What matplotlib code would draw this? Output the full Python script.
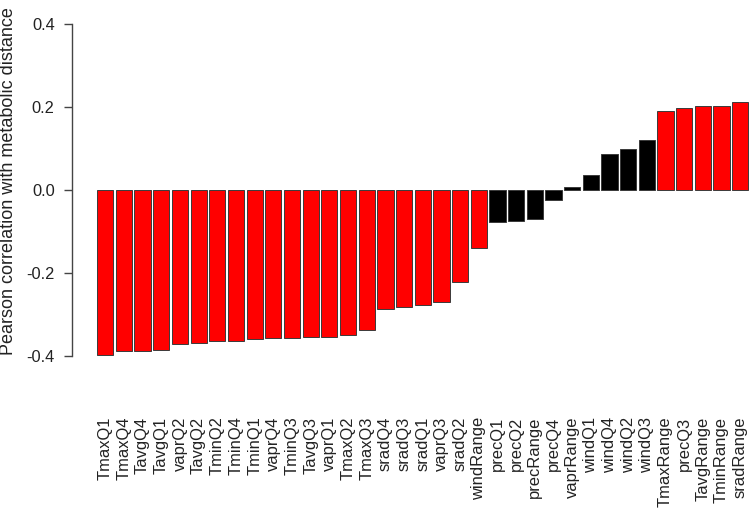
import matplotlib
matplotlib.use("Agg")
import matplotlib.pyplot as plt
import numpy as np

labels = ["TmaxQ1", "TmaxQ4", "TavgQ4", "TavgQ1", "vaprQ2", "TavgQ2", "TminQ2",
          "TminQ4", "TminQ1", "vaprQ4", "TminQ3", "TavgQ3", "vaprQ1", "TmaxQ2",
          "TmaxQ3", "sradQ4", "sradQ3", "sradQ1", "vaprQ3", "sradQ2", "windRange",
          "precQ1", "precQ2", "precRange", "precQ4", "vaprRange", "windQ1",
          "windQ4", "windQ2", "windQ3", "TmaxRange", "precQ3", "TavgRange",
          "TminRange", "sradRange"]
values = [-0.398, -0.388, -0.388, -0.386, -0.372, -0.368, -0.364,
          -0.363, -0.359, -0.357, -0.356, -0.355, -0.353, -0.350,
          -0.337, -0.287, -0.281, -0.276, -0.269, -0.221, -0.139,
          -0.076, -0.075, -0.071, -0.024, 0.008, 0.036,
          0.087, 0.098, 0.120, 0.191, 0.198, 0.202,
          0.203, 0.213]
significant = [True] * 21 + [False] * 9 + [True] * 5

plt.rcParams['font.family'] = ['Liberation Sans', 'DejaVu Sans']

fig = plt.figure(figsize=(7.52, 5.16), dpi=100)
ax = fig.add_axes([72 / 752, 1 - 369.3 / 516, (752 - 72) / 752, (369.3 - 10.7) / 516])

x = np.arange(len(labels))
colors = ['#ff0000' if s else '#000000' for s in significant]
ax.bar(x, values, width=0.87, color=colors, edgecolor='#3a3a3a', linewidth=0.7)

ax.set_xlim(-1.78, 34.63)
ax.set_ylim(-0.432, 0.432)

for s in ['top', 'right', 'bottom']:
    ax.spines[s].set_visible(False)
ax.spines['left'].set_bounds(-0.4, 0.4)
ax.spines['left'].set_color('#444444')
ax.spines['left'].set_linewidth(1.0)

ax.set_yticks([-0.4, -0.2, 0.0, 0.2, 0.4])
ax.set_yticklabels(['-0.4', '-0.2', '0.0', '0.2', '0.4'])
ax.tick_params(axis='y', length=6, width=1.0, color='#444444', pad=6.5,
               labelsize=11.8, labelcolor='#222222')

ax.set_xticks(x)
ax.set_xticklabels(labels, rotation=90)
ax.tick_params(axis='x', length=0, pad=34, labelsize=11.9, labelcolor='#222222')

ax.set_ylabel('Pearson correlation with metabolic distance', fontsize=13,
              color='#222222')
ax.yaxis.set_label_coords(-(72 - 17) / 680, (369.3 - 181) / 358.6)

fig.savefig('out.png', dpi=100)
